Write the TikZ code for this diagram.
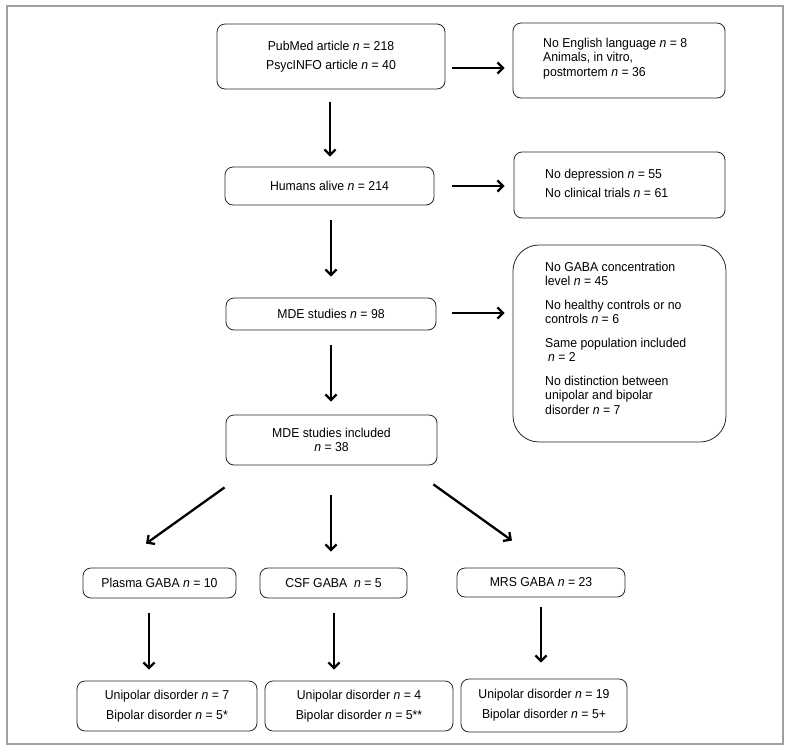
\documentclass[tikz,border=0pt]{standalone}
\usepackage{fontspec}
\setmainfont[FakeStretch=0.95]{Liberation Sans}
\usetikzlibrary{arrows.meta,calc}
\newcommand\fsz{\fontsize{12.9}{14.5}\selectfont}
\newcommand\nn{\textit{n}}
\begin{document}
\begin{tikzpicture}[x=1pt,y=-1pt,
  box/.style={draw=black!85, line width=0.8pt, rounded corners=8pt, align=center, inner sep=0pt, font=\fsz},
  arr/.style={line width=2.3pt, -{Straight Barb[length=5.5pt,width=11pt]}},
  txt/.style={align=left, inner sep=0pt, font=\fsz}]
\useasboundingbox (0,0) rectangle (790,753);
\draw[gray!75, line width=1.4pt] (7,6) rectangle (783,744);

% main column
\node[box, minimum width=228pt, minimum height=65pt] (pub) at (331,56.5)
  {PubMed article \nn{} = 218\\[4.5pt] PsycINFO article \nn{} = 40};
\node[box, minimum width=209pt, minimum height=38pt] (hum) at (329.5,186) {Humans alive \nn{} = 214};
\node[box, minimum width=210pt, minimum height=32pt] (mde) at (331,314) {MDE studies \nn{} = 98};
\node[box, minimum width=211pt, minimum height=50pt] (inc) at (331.5,440) {MDE studies included\\ \nn{} = 38};

% exclusion boxes
\node[box, minimum width=212pt, minimum height=75pt] (ex1) at (619,60.5) {};
\node[txt, anchor=west] (ex1t) at (543,58.5)
  {No English language \nn{} = 8\\ Animals, in vitro,\\ postmortem \nn{} = 36};
\node[box, minimum width=211pt, minimum height=66pt] (ex2) at (619.5,185) {};
\node[txt, anchor=west] (ex2t) at (545,183)
  {No depression \nn{} = 55\\[4.5pt] No clinical trials \nn{} = 61};
\node[box, minimum width=213pt, minimum height=197pt, rounded corners=26pt] (ex3) at (619.5,343.5) {};
\node[txt, anchor=west] (ex3t) at (545,338)
  {No GABA concentration\\ level \nn{} = 45\\[9pt]
   No healthy controls or no\\ controls \nn{} = 6\\[9pt]
   Same population included\\ \hspace{3pt}\nn{} = 2\\[9pt]
   No distinction between\\ unipolar and bipolar\\ disorder \nn{} = 7};

% GABA boxes
\node[box, minimum width=153pt, minimum height=30pt] (pla) at (159.5,583) {Plasma GABA \nn{} = 10};
\node[box, minimum width=147pt, minimum height=30pt] (csf) at (333.5,583) {CSF GABA~ \nn{} = 5};
\node[box, minimum width=168pt, minimum height=29pt] (mrs) at (541,582.5) {MRS GABA \nn{} = 23};

% disorder boxes
\node[box, minimum width=180pt, minimum height=50pt] (b1) at (167,706)
  {Unipolar disorder \nn{} = 7\\[5.5pt] Bipolar disorder \nn{} = 5*};
\node[box, minimum width=188pt, minimum height=50pt] (b2) at (359,706)
  {Unipolar disorder \nn{} = 4\\[5.5pt] Bipolar disorder \nn{} = 5**};
\node[box, minimum width=166pt, minimum height=53pt] (b3) at (544,705.5)
  {Unipolar disorder \nn{} = 19\\[5.5pt] Bipolar disorder \nn{} = 5+};

% arrows
\draw[arr, shorten <=7pt, shorten >=8pt] (pub.east |- 0,68) -- (ex1.west |- 0,68);
\draw[arr, shorten <=18pt, shorten >=9pt] (hum.east |- 0,186) -- (ex2.west |- 0,186);
\draw[arr, shorten <=16pt, shorten >=8pt] (mde.east |- 0,313) -- (ex3.west |- 0,313);

\draw[arr, shorten <=13pt, shorten >=10pt] (pub.south -| 330,0) -- (hum.north -| 330,0);
\draw[arr, shorten <=15pt, shorten >=21pt] (hum.south -| 331,0) -- (mde.north -| 331,0);
\draw[arr, shorten <=15pt, shorten >=13pt] (mde.south -| 331,0) -- (inc.north -| 331,0);

\draw[arr] ([shift={(-1,22)}]inc.south west) -- ([shift={(-13.5,-24)}]pla.north);
\draw[arr, shorten <=30pt, shorten >=16pt] (inc.south -| 331,0) -- (csf.north -| 331,0);
\draw[arr] ([shift={(-4,19)}]inc.south east) -- ([shift={(-29,-27)}]mrs.north);

\draw[arr, shorten <=15pt, shorten >=11pt] (pla.south -| 149,0) -- (b1.north -| 149,0);
\draw[arr, shorten <=15pt, shorten >=11pt] (csf.south -| 334,0) -- (b2.north -| 334,0);
\draw[arr, shorten <=10pt, shorten >=16pt] (mrs.south -| 541,0) -- (b3.north -| 541,0);
\end{tikzpicture}
\end{document}
